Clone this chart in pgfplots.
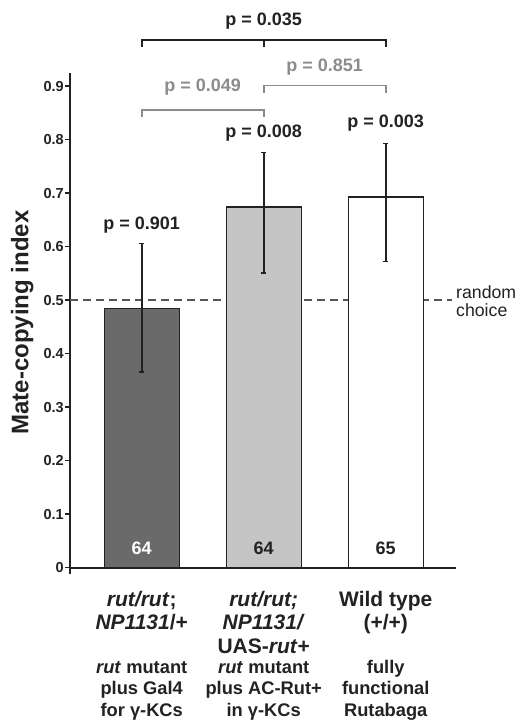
\documentclass[border=0pt]{standalone}
\usepackage{fontspec}
\setmainfont{Liberation Sans}
\usepackage{pgfplots}
\pgfplotsset{compat=1.18}
\definecolor{darkbar}{HTML}{6A6A6A}
\definecolor{lightbar}{HTML}{C5C5C5}
\definecolor{edge}{HTML}{222222}
\definecolor{pgray}{HTML}{8C8C8C}
\definecolor{dashc}{HTML}{555555}
\begin{document}
\begin{tikzpicture}
\path[use as bounding box] (0,0) rectangle (520pt,720pt);
\begin{axis}[
  at={(70pt,152.3pt)}, anchor=south west,
  scale only axis, width=386pt, height=494.9pt,
  xmin=-0.588, xmax=2.576, ymin=0, ymax=0.925,
  axis lines*=left,
  axis line style={line width=1.8pt, color=edge},
  clip=false,
  xtick={0,1,2},
  xticklabels={{\textit{rut/rut};\\\textit{NP1131}/+},{\textit{rut/rut;}\\\textit{NP1131/}\\UAS-\textit{rut}+},{Wild type\\(+/+)}},
  xtick style={draw=none},
  xticklabel style={font=\fontsize{21}{23.5}\selectfont\bfseries, align=center, anchor=north, inner sep=0pt, yshift=-18pt, text=edge},
  ytick={0,0.1,0.2,0.3,0.4,0.5,0.6,0.7,0.8,0.9},
  yticklabel style={font=\fontsize{14.5}{17}\selectfont\bfseries, inner sep=1pt, text=edge},
  /pgf/number format/assume math mode=true,
  ytick style={line width=1.4pt, color=edge},
  tick align=outside, major tick length=5pt,
  ylabel={Mate-copying index},
  ylabel style={font=\fontsize{24}{28}\selectfont\bfseries, at={(axis description cs:-0.124,0.4955)}, anchor=center, text=edge},
]
% random choice line
\addplot[dashc, line width=1.6pt, dash pattern=on 8pt off 5pt, mark=none] coordinates {(-0.588,0.5) (2.543,0.5)};
% small extension of the y axis below the origin
\addplot[edge, line width=1.8pt, mark=none] coordinates {(-0.588,0) (-0.588,-0.011)};
% bars
\addplot[ybar, bar width=75pt, bar shift=0pt, fill=darkbar, draw=edge, line width=1.4pt,
  error bars/.cd, y dir=both, y explicit,
  error bar style={line width=1.6pt, color=edge},
  error mark options={rotate=90, mark size=2.5pt, line width=1.4pt, color=edge}]
  coordinates {(0,0.485) += (0,0.121) -= (0,0.119)};
\addplot[ybar, bar width=75pt, bar shift=0pt, fill=lightbar, draw=edge, line width=1.4pt,
  error bars/.cd, y dir=both, y explicit,
  error bar style={line width=1.6pt, color=edge},
  error mark options={rotate=90, mark size=2.5pt, line width=1.4pt, color=edge}]
  coordinates {(1,0.674) += (0,0.102) -= (0,0.123)};
\addplot[ybar, bar width=75pt, bar shift=0pt, fill=white, draw=edge, line width=1.4pt,
  error bars/.cd, y dir=both, y explicit,
  error bar style={line width=1.6pt, color=edge},
  error mark options={rotate=90, mark size=2.5pt, line width=1.4pt, color=edge}]
  coordinates {(2,0.693) += (0,0.100) -= (0,0.121)};
% n labels
\node[font=\fontsize{18}{20}\selectfont\bfseries, text=white, anchor=base] at (axis cs:0,0.025) {64};
\node[font=\fontsize{18}{20}\selectfont\bfseries, text=edge, anchor=base] at (axis cs:1,0.025) {64};
\node[font=\fontsize{18}{20}\selectfont\bfseries, text=edge, anchor=base] at (axis cs:2,0.025) {65};
% brackets
\addplot[edge, line width=1.6pt, mark=none] coordinates {(0,0.973) (0,0.986) (2,0.986) (2,0.973)};
\addplot[edge, line width=1.6pt, mark=none] coordinates {(1,0.986) (1,0.973)};
\addplot[pgray, line width=1.6pt, mark=none] coordinates {(0,0.8424) (0,0.8555) (1,0.8555) (1,0.8424)};
\addplot[pgray, line width=1.6pt, mark=none] coordinates {(1,0.8873) (1,0.901) (2,0.901) (2,0.8873)};
% p-values
\node[font=\fontsize{18}{20}\selectfont\bfseries, text=edge, anchor=base] at (axis cs:1,1.0125) {p = 0.035};
\node[font=\fontsize{18}{20}\selectfont\bfseries, text=pgray, anchor=base] at (axis cs:0.5,0.8897) {p = 0.049};
\node[font=\fontsize{18}{20}\selectfont\bfseries, text=pgray, anchor=base] at (axis cs:1.5,0.9271) {p = 0.851};
\node[font=\fontsize{18}{20}\selectfont\bfseries, text=edge, anchor=base] at (axis cs:1,0.8045) {p = 0.008};
\node[font=\fontsize{18}{20}\selectfont\bfseries, text=edge, anchor=base] at (axis cs:2,0.8224) {p = 0.003};
\node[font=\fontsize{18}{20}\selectfont\bfseries, text=edge, anchor=base] at (axis cs:0,0.6312) {p = 0.901};
% random choice
\node[anchor=base west, inner sep=0pt, font=\fontsize{17.7}{18.4}\selectfont, text=edge] at (axis cs:2.576,0.5036) {random};
\node[anchor=base west, inner sep=0pt, font=\fontsize{17.7}{18.4}\selectfont, text=edge] at (axis cs:2.576,0.4692) {choice};
% descriptions
\node[font=\fontsize{18.3}{21}\selectfont\bfseries, text=edge, anchor=base, yshift=-105.6pt] at (axis cs:0,0) {\textit{rut} mutant};
\node[font=\fontsize{18.3}{21}\selectfont\bfseries, text=edge, anchor=base, yshift=-126.9pt] at (axis cs:0,0) {plus Gal4};
\node[font=\fontsize{18.3}{21}\selectfont\bfseries, text=edge, anchor=base, yshift=-148.3pt] at (axis cs:0,0) {for γ-KCs};
\node[font=\fontsize{18.3}{21}\selectfont\bfseries, text=edge, anchor=base, yshift=-105.6pt] at (axis cs:1,0) {\textit{rut} mutant};
\node[font=\fontsize{18.3}{21}\selectfont\bfseries, text=edge, anchor=base, yshift=-126.9pt] at (axis cs:1,0) {plus AC-Rut+};
\node[font=\fontsize{18.3}{21}\selectfont\bfseries, text=edge, anchor=base, yshift=-148.3pt] at (axis cs:1,0) {in γ-KCs};
\node[font=\fontsize{18.3}{21}\selectfont\bfseries, text=edge, anchor=base, yshift=-105.6pt] at (axis cs:2,0) {fully};
\node[font=\fontsize{18.3}{21}\selectfont\bfseries, text=edge, anchor=base, yshift=-126.9pt] at (axis cs:2,0) {functional};
\node[font=\fontsize{18.3}{21}\selectfont\bfseries, text=edge, anchor=base, yshift=-148.3pt] at (axis cs:2,0) {Rutabaga};
\end{axis}
\end{tikzpicture}
\end{document}
